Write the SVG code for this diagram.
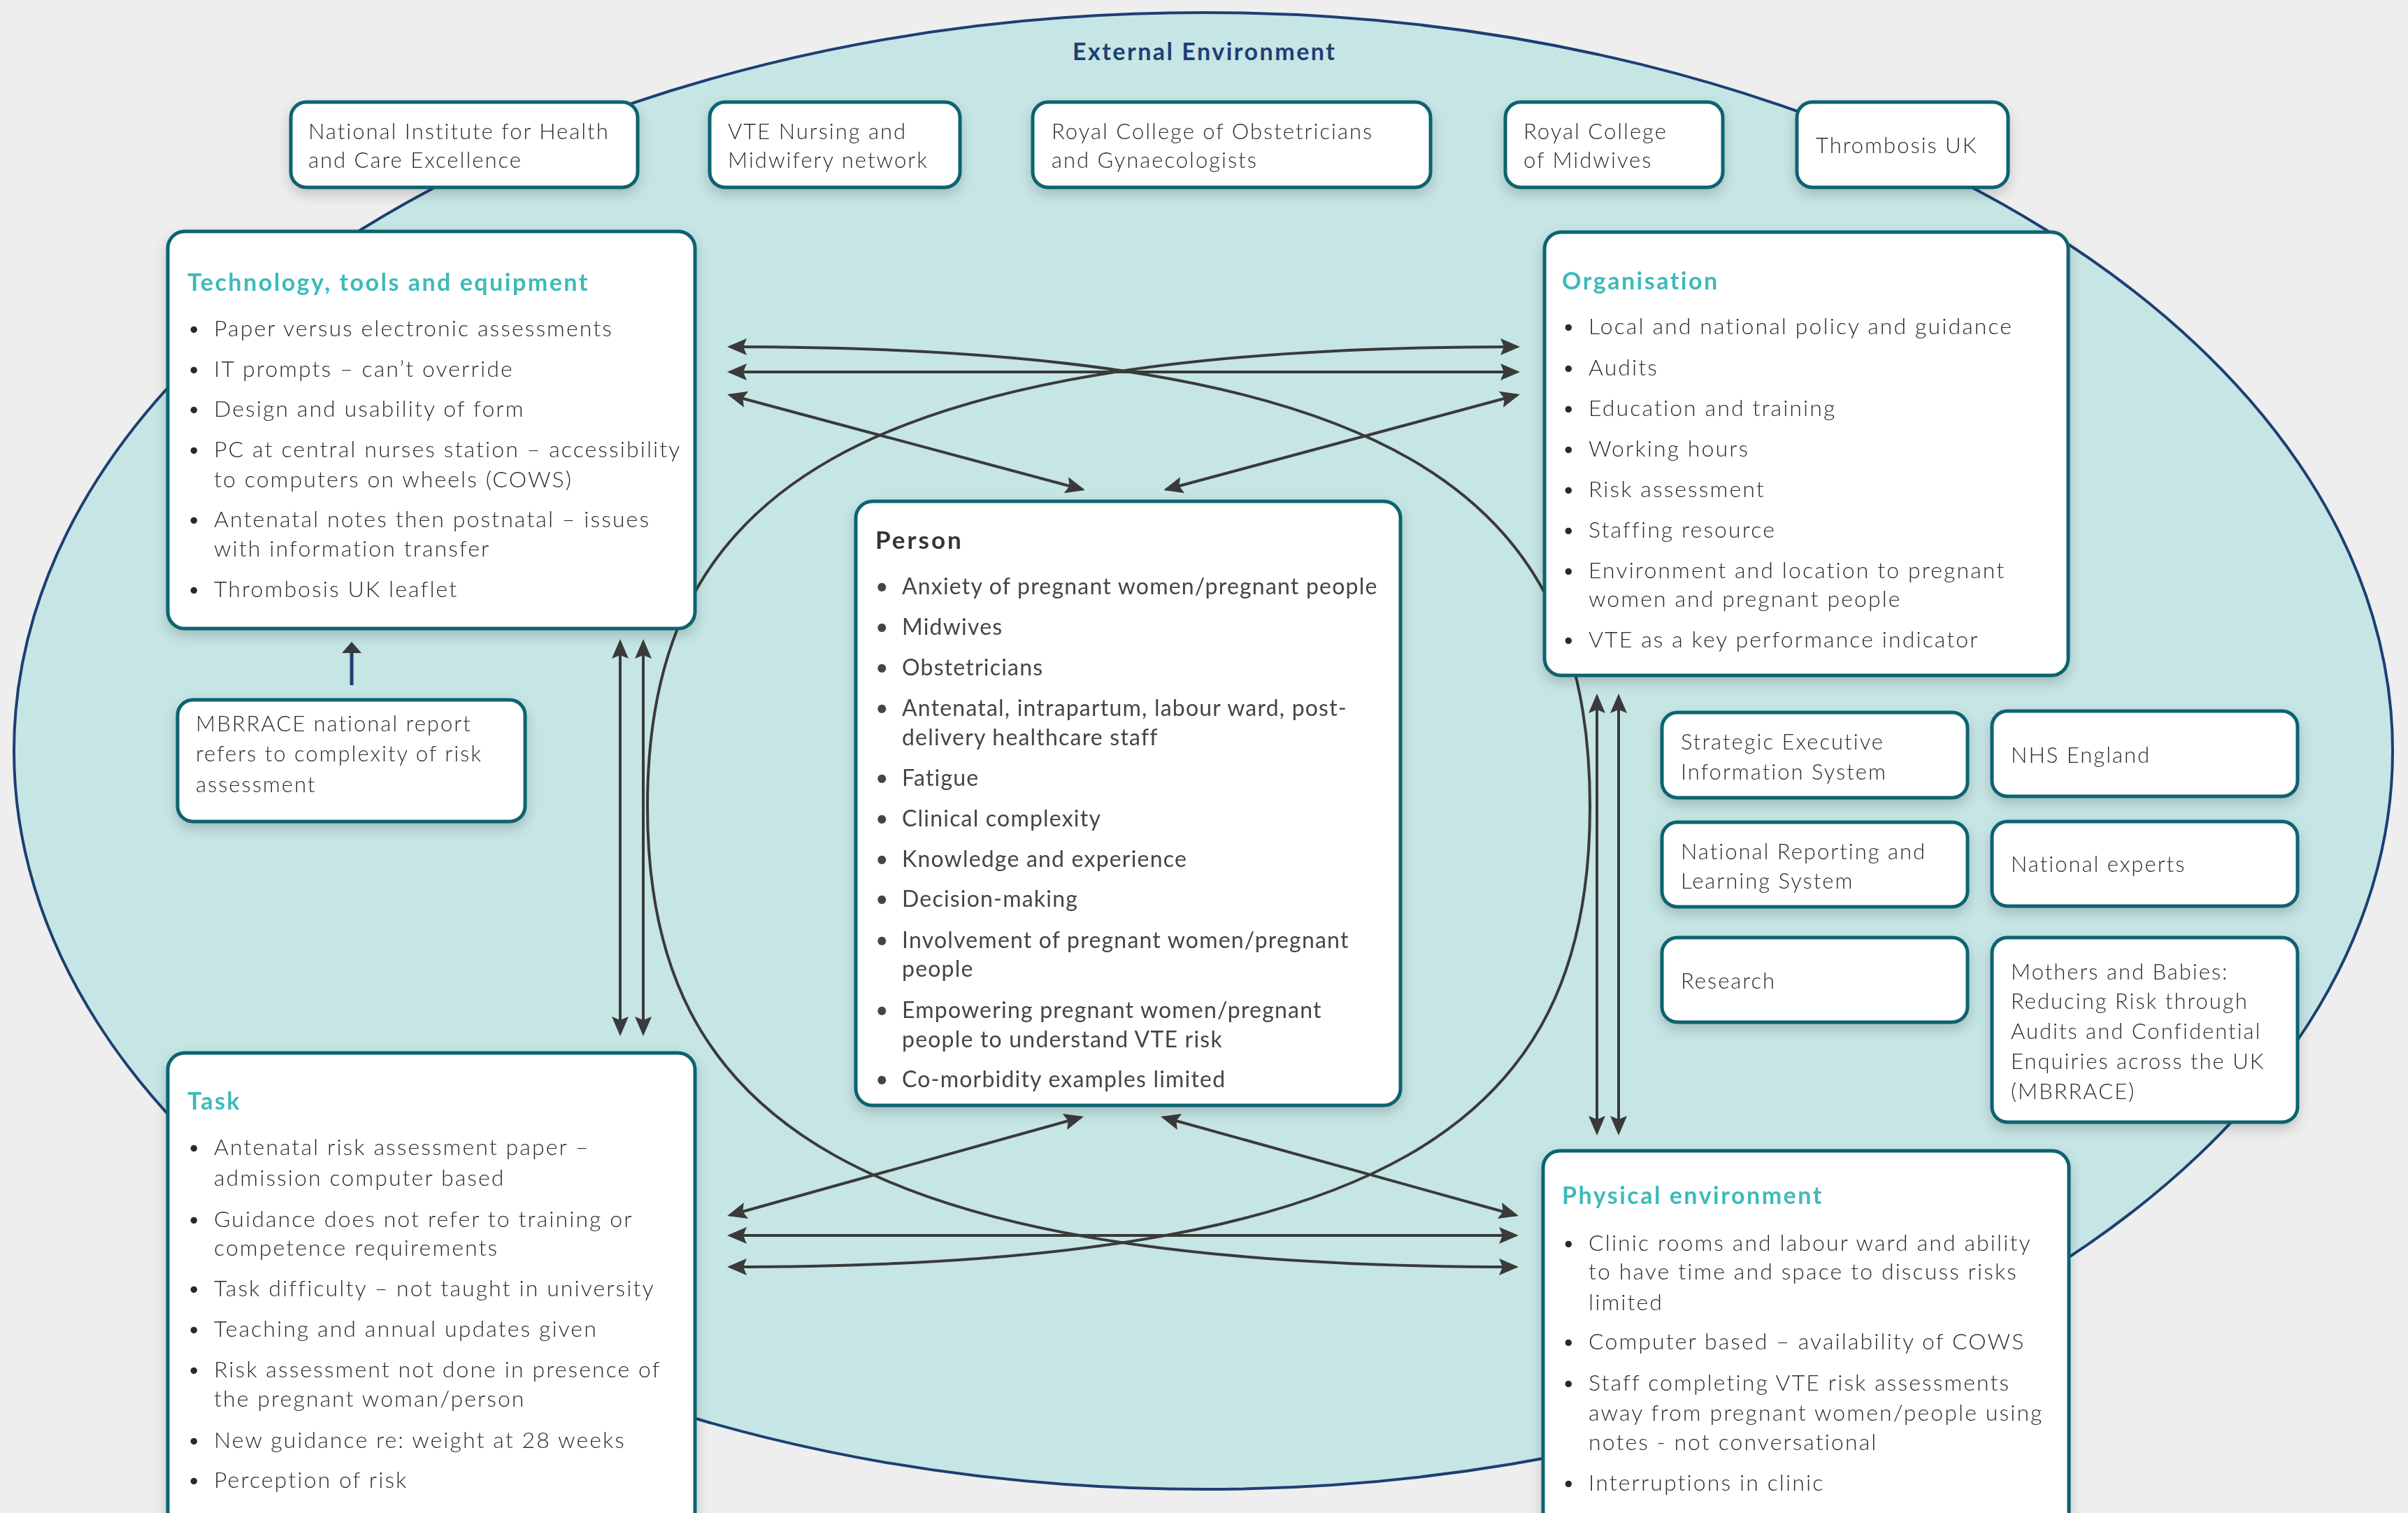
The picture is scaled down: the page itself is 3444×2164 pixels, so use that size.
<svg xmlns="http://www.w3.org/2000/svg" width="3444" height="2164" viewBox="0 0 3444 2164">
<style>
.box{fill:#ffffff;stroke:#0b6470;stroke-width:5}
.t{font-family:Lato,'Liberation Sans',sans-serif;font-weight:300;font-size:32px;fill:#2c2c2c;letter-spacing:2.1px}
.s{font-family:Lato,'Liberation Sans',sans-serif;font-weight:300;font-size:31px;fill:#2c2c2c;letter-spacing:2px}
.p{font-family:Lato,'Liberation Sans',sans-serif;font-weight:400;font-size:32px;fill:#454545;letter-spacing:1.2px}
.h{font-family:Lato,'Liberation Sans',sans-serif;font-weight:700;font-size:34px;fill:#3dbaba;letter-spacing:2.5px}
.hp{font-family:Lato,'Liberation Sans',sans-serif;font-weight:700;font-size:35px;fill:#353535;letter-spacing:3px}
.env{font-family:Lato,'Liberation Sans',sans-serif;font-weight:700;font-size:34px;fill:#1d3f73;letter-spacing:2.5px}
.c{fill:none;stroke:#3a3a3a;stroke-width:4;marker-start:url(#ah);marker-end:url(#ah)}
.cv{fill:none;stroke:#3a3a3a;stroke-width:4;marker-start:url(#ah);marker-end:url(#ah)}
</style>
<defs>
<filter id="sh" x="-10%" y="-10%" width="120%" height="130%">
<feDropShadow dx="0" dy="8" stdDeviation="9" flood-color="#000000" flood-opacity="0.18"/>
</filter>
<marker id="ah" viewBox="0 0 28 24" refX="24" refY="12" markerWidth="28" markerHeight="24" markerUnits="userSpaceOnUse" orient="auto-start-reverse">
<path d="M0,0 L28,12 L0,24 L5,12 z" fill="#3a3a3a"/>
</marker>
</defs>
<rect x="0" y="0" width="3444" height="2164" fill="#eeeeee"/>
<ellipse cx="1721" cy="1074" rx="1701" ry="1056" fill="#c6e5e5" stroke="#1d3f73" stroke-width="4"/>
<text class="env" x="1534" y="86">External Environment</text>

<g id="connectors">
<path class="cv" d="M1044,496 C2003,496 2274,707 2274,1154 C2274,1605 1990,1812 1044,1812"/>
<path class="cv" d="M2170,496 C1211,496 926,707 926,1154 C926,1605 1224,1812 2168,1812"/>
<line class="c" x1="1044" y1="532" x2="2170" y2="532"/>
<line class="c" x1="1044" y1="565" x2="1548" y2="700"/>
<line class="c" x1="2170" y1="565" x2="1668" y2="700"/>
<line class="c" x1="1044" y1="1767" x2="2168" y2="1767"/>
<line class="c" x1="1044" y1="1738" x2="1546" y2="1598"/>
<line class="c" x1="2168" y1="1738" x2="1664" y2="1598"/>
<line class="c" x1="887" y1="918" x2="887" y2="1478"/>
<line class="c" x1="920" y1="918" x2="920" y2="1478"/>
<line class="c" x1="2284" y1="996" x2="2284" y2="1620"/>
<line class="c" x1="2315" y1="996" x2="2315" y2="1620"/>
<line x1="503" y1="980" x2="503" y2="930" stroke="#1d3f73" stroke-width="5"/>
<path d="M489,934 L503,918 L517,934 z" fill="#3a3a3a"/>
</g>

<g id="nice" filter="url(#sh)">
<rect class="box" x="416" y="146" width="496" height="122" rx="22"/>
<text class="s" x="441" y="199">National Institute for Health</text>
<text class="s" x="441" y="240">and Care Excellence</text>
</g>
<g id="vte-network" filter="url(#sh)">
<rect class="box" x="1015" y="146" width="358" height="122" rx="22"/>
<text class="s" x="1041" y="199">VTE Nursing and</text>
<text class="s" x="1041" y="240">Midwifery network</text>
</g>
<g id="rcog" filter="url(#sh)">
<rect class="box" x="1477" y="146" width="569" height="122" rx="22"/>
<text class="s" x="1504" y="199">Royal College of Obstetricians</text>
<text class="s" x="1504" y="240">and Gynaecologists</text>
</g>
<g id="rcm" filter="url(#sh)">
<rect class="box" x="2153" y="146" width="311" height="122" rx="22"/>
<text class="s" x="2179" y="199">Royal College</text>
<text class="s" x="2179" y="240">of Midwives</text>
</g>
<g id="thrombosis-uk" filter="url(#sh)">
<rect class="box" x="2570" y="146" width="302" height="122" rx="22"/>
<text class="s" x="2597" y="219">Thrombosis UK</text>
</g>

<g id="technology" filter="url(#sh)">
<rect class="box" x="240" y="331" width="754" height="568" rx="24"/>
<text class="h" x="268" y="416">Technology, tools and equipment</text>
<g class="t">
<text x="268" y="481">•</text><text x="306" y="481">Paper versus electronic assessments</text>
<text x="268" y="539">•</text><text x="306" y="539">IT prompts – can’t override</text>
<text x="268" y="596">•</text><text x="306" y="596">Design and usability of form</text>
<text x="268" y="654">•</text><text x="306" y="654">PC at central nurses station – accessibility</text>
<text x="306" y="697">to computers on wheels (COWS)</text>
<text x="268" y="754">•</text><text x="306" y="754">Antenatal notes then postnatal – issues</text>
<text x="306" y="796">with information transfer</text>
<text x="268" y="854">•</text><text x="306" y="854">Thrombosis UK leaflet</text>
</g>
</g>

<g id="mbrrace-report" filter="url(#sh)">
<rect class="box" x="254" y="1001" width="497" height="174" rx="22"/>
<text class="s" x="280" y="1046">MBRRACE national report</text>
<text class="s" x="280" y="1089">refers to complexity of risk</text>
<text class="s" x="280" y="1133">assessment</text>
</g>

<g id="organisation" filter="url(#sh)">
<rect class="box" x="2209" y="332" width="749" height="634" rx="24"/>
<text class="h" x="2234" y="414">Organisation</text>
<g class="t">
<text x="2234" y="478">•</text><text x="2272" y="478">Local and national policy and guidance</text>
<text x="2234" y="537">•</text><text x="2272" y="537">Audits</text>
<text x="2234" y="595">•</text><text x="2272" y="595">Education and training</text>
<text x="2234" y="653">•</text><text x="2272" y="653">Working hours</text>
<text x="2234" y="711">•</text><text x="2272" y="711">Risk assessment</text>
<text x="2234" y="769">•</text><text x="2272" y="769">Staffing resource</text>
<text x="2234" y="827">•</text><text x="2272" y="827">Environment and location to pregnant</text>
<text x="2272" y="868">women and pregnant people</text>
<text x="2234" y="926">•</text><text x="2272" y="926">VTE as a key performance indicator</text>
</g>
</g>

<g id="person" filter="url(#sh)">
<rect class="box" x="1224" y="717" width="779" height="864" rx="24"/>
<text class="hp" x="1252" y="785">Person</text>
<g class="p">
<text x="1252" y="850">•</text><text x="1290" y="850">Anxiety of pregnant women/pregnant people</text>
<text x="1252" y="908">•</text><text x="1290" y="908">Midwives</text>
<text x="1252" y="966">•</text><text x="1290" y="966">Obstetricians</text>
<text x="1252" y="1024">•</text><text x="1290" y="1024">Antenatal, intrapartum, labour ward, post-</text>
<text x="1290" y="1066">delivery healthcare staff</text>
<text x="1252" y="1124">•</text><text x="1290" y="1124">Fatigue</text>
<text x="1252" y="1182">•</text><text x="1290" y="1182">Clinical complexity</text>
<text x="1252" y="1240">•</text><text x="1290" y="1240">Knowledge and experience</text>
<text x="1252" y="1297">•</text><text x="1290" y="1297">Decision-making</text>
<text x="1252" y="1356">•</text><text x="1290" y="1356">Involvement of pregnant women/pregnant</text>
<text x="1290" y="1397">people</text>
<text x="1252" y="1456">•</text><text x="1290" y="1456">Empowering pregnant women/pregnant</text>
<text x="1290" y="1498">people to understand VTE risk</text>
<text x="1252" y="1555">•</text><text x="1290" y="1555">Co-morbidity examples limited</text>
</g>
</g>

<g id="seis" filter="url(#sh)">
<rect class="box" x="2377" y="1019" width="437" height="122" rx="22"/>
<text class="s" x="2404" y="1072">Strategic Executive</text>
<text class="s" x="2404" y="1115">Information System</text>
</g>
<g id="nhs-england" filter="url(#sh)">
<rect class="box" x="2849" y="1017" width="437" height="122" rx="22"/>
<text class="s" x="2876" y="1091">NHS England</text>
</g>
<g id="nrls" filter="url(#sh)">
<rect class="box" x="2377" y="1176" width="437" height="121" rx="22"/>
<text class="s" x="2404" y="1229">National Reporting and</text>
<text class="s" x="2404" y="1271">Learning System</text>
</g>
<g id="national-experts" filter="url(#sh)">
<rect class="box" x="2849" y="1175" width="437" height="121" rx="22"/>
<text class="s" x="2876" y="1247">National experts</text>
</g>
<g id="research" filter="url(#sh)">
<rect class="box" x="2377" y="1341" width="437" height="121" rx="22"/>
<text class="s" x="2404" y="1414">Research</text>
</g>
<g id="mbrrace" filter="url(#sh)">
<rect class="box" x="2849" y="1341" width="437" height="264" rx="22"/>
<text class="s" x="2876" y="1401">Mothers and Babies:</text>
<text class="s" x="2876" y="1443">Reducing Risk through</text>
<text class="s" x="2876" y="1486">Audits and Confidential</text>
<text class="s" x="2876" y="1529">Enquiries across the UK</text>
<text class="s" x="2876" y="1572">(MBRRACE)</text>
</g>

<g id="task" filter="url(#sh)">
<rect class="box" x="240" y="1506" width="754" height="720" rx="24"/>
<text class="h" x="268" y="1587">Task</text>
<g class="t">
<text x="268" y="1652">•</text><text x="306" y="1652">Antenatal risk assessment paper –</text>
<text x="306" y="1696">admission computer based</text>
<text x="268" y="1755">•</text><text x="306" y="1755">Guidance does not refer to training or</text>
<text x="306" y="1796">competence requirements</text>
<text x="268" y="1854">•</text><text x="306" y="1854">Task difficulty – not taught in university</text>
<text x="268" y="1912">•</text><text x="306" y="1912">Teaching and annual updates given</text>
<text x="268" y="1970">•</text><text x="306" y="1970">Risk assessment not done in presence of</text>
<text x="306" y="2012">the pregnant woman/person</text>
<text x="268" y="2071">•</text><text x="306" y="2071">New guidance re: weight at 28 weeks</text>
<text x="268" y="2128">•</text><text x="306" y="2128">Perception of risk</text>
</g>
</g>

<g id="physical-environment" filter="url(#sh)">
<rect class="box" x="2207" y="1646" width="752" height="580" rx="24"/>
<text class="h" x="2234" y="1722">Physical environment</text>
<g class="t">
<text x="2234" y="1789">•</text><text x="2272" y="1789">Clinic rooms and labour ward and ability</text>
<text x="2272" y="1830">to have time and space to discuss risks</text>
<text x="2272" y="1874">limited</text>
<text x="2234" y="1930">•</text><text x="2272" y="1930">Computer based – availability of COWS</text>
<text x="2234" y="1989">•</text><text x="2272" y="1989">Staff completing VTE risk assessments</text>
<text x="2272" y="2032">away from pregnant women/people using</text>
<text x="2272" y="2074">notes - not conversational</text>
<text x="2234" y="2132">•</text><text x="2272" y="2132">Interruptions in clinic</text>
</g>
</g>
</svg>
